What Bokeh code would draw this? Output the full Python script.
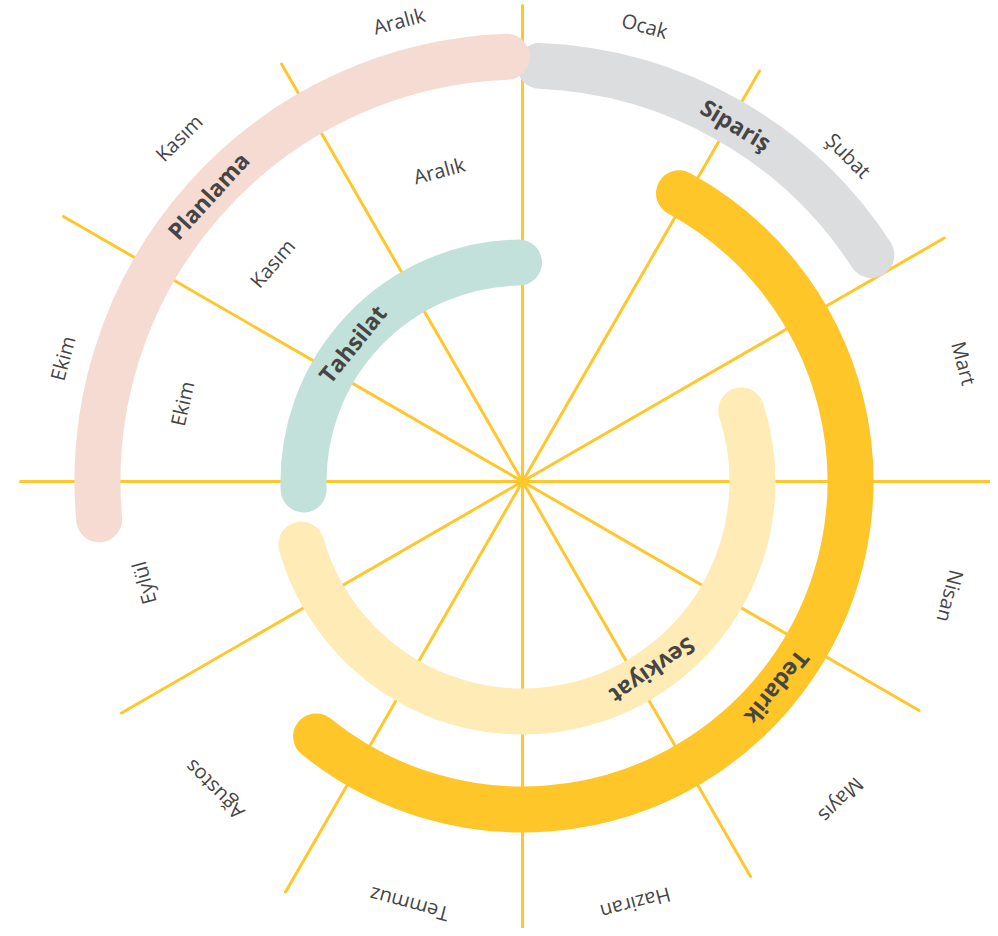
import numpy as np
from bokeh.plotting import figure
from bokeh.models import Range1d
from bokeh.core.properties import value
from bokeh.embed import file_html
from bokeh.resources import INLINE

# ---------------- data ----------------
months = ["Ocak", "Şubat", "Mart", "Nisan", "Mayıs", "Haziran",
          "Temmuz", "Ağustos", "Eylül", "Ekim", "Kasım", "Aralık"]

# tasks (drawing order), start / end in months from top (Ocak start), ring index
tasks = ["Sipariş", "Tedarik", "Sevkiyat", "Tahsilat", "Planlama"]
task_start = [0.08, 0.95, 2.40, 8.93, 8.83]
task_end = [1.90, 7.30, 8.47, 11.97, 11.93]
task_ring = [4, 3, 2, 2, 4]
task_label_pos = [1.03, 4.30, 4.85, 10.30, 10.41]

inner_labels = ["Ekim", "Kasım", "Aralık"]
inner_label_pos = [9.43, 10.37, 11.50]

# ---------------- style ----------------
task_colors = ["#DCDDDF", "#FFC629", "#FEEBB5", "#C1E1DA", "#F5DBD1"]
TASK_R = [416, 328, 230, 219, 425]
SPOKE_LEN = [476, 474, 487, 468, 458, 456, 454, 474, 463, 502, 530, 482]
MONTH_LABEL_R = [472, 461, 457, 443, 451, 437, 438, 436, 392, 476, 486, 477]
INNER_LABEL_R = [349, 332, 322]
TEXT_COLOR = "#454545"
SPOKE_COLOR = "#FFC72C"
FONT = value("Open Sans")

def clock_to_rad(m):
    # month units clockwise from north -> bokeh angle (ccw from +x)
    return np.deg2rad(90.0 - np.asarray(m, dtype=float) * 30.0)

p = figure(width=990, height=928, output_backend="svg", toolbar_location=None,
           x_range=Range1d(-522, 468), y_range=Range1d(-447, 481),
           min_border=0, outline_line_color=None, background_fill_color="white")
p.axis.visible = False
p.grid.visible = False

# spokes (12 boundaries between months)
b = np.arange(12)
ang = clock_to_rad(b)
L = np.array(SPOKE_LEN, dtype=float)
p.segment(x0=np.zeros(12), y0=np.zeros(12), x1=L * np.cos(ang), y1=L * np.sin(ang),
          line_color=SPOKE_COLOR, line_width=3, line_cap="round")

# task arcs
for i, t in enumerate(tasks):
    p.arc(x=[0], y=[0], radius=[TASK_R[i]],
          start_angle=float(clock_to_rad(task_start[i])),
          end_angle=float(clock_to_rad(task_end[i])),
          direction="clock", line_color=task_colors[i], line_width=46,
          line_cap="round")

# task labels
ta = clock_to_rad(task_label_pos)
tr = np.array(TASK_R, dtype=float)
p.text(x=tr * np.cos(ta), y=tr * np.sin(ta), text=tasks,
       angle=-np.deg2rad(np.array(task_label_pos) * 30.0),
       text_align="center", text_baseline="middle", text_color=TEXT_COLOR,
       text_font=FONT, text_font_size="23px", text_font_style="bold")

# outer month labels
mp = np.arange(12) + 0.5
ma = clock_to_rad(mp)
mr = np.array(MONTH_LABEL_R, dtype=float)
p.text(x=mr * np.cos(ma), y=mr * np.sin(ma), text=months,
       angle=-np.deg2rad(mp * 30.0),
       text_align="center", text_baseline="middle", text_color=TEXT_COLOR,
       text_font=FONT, text_font_size="20px")

# inner month labels
ia = clock_to_rad(inner_label_pos)
ir = np.array(INNER_LABEL_R, dtype=float)
p.text(x=ir * np.cos(ia), y=ir * np.sin(ia), text=inner_labels,
       angle=-np.deg2rad(np.array(inner_label_pos) * 30.0),
       text_align="center", text_baseline="middle", text_color=TEXT_COLOR,
       text_font=FONT, text_font_size="20px")

open("out.html", "w").write(file_html(p, INLINE))
